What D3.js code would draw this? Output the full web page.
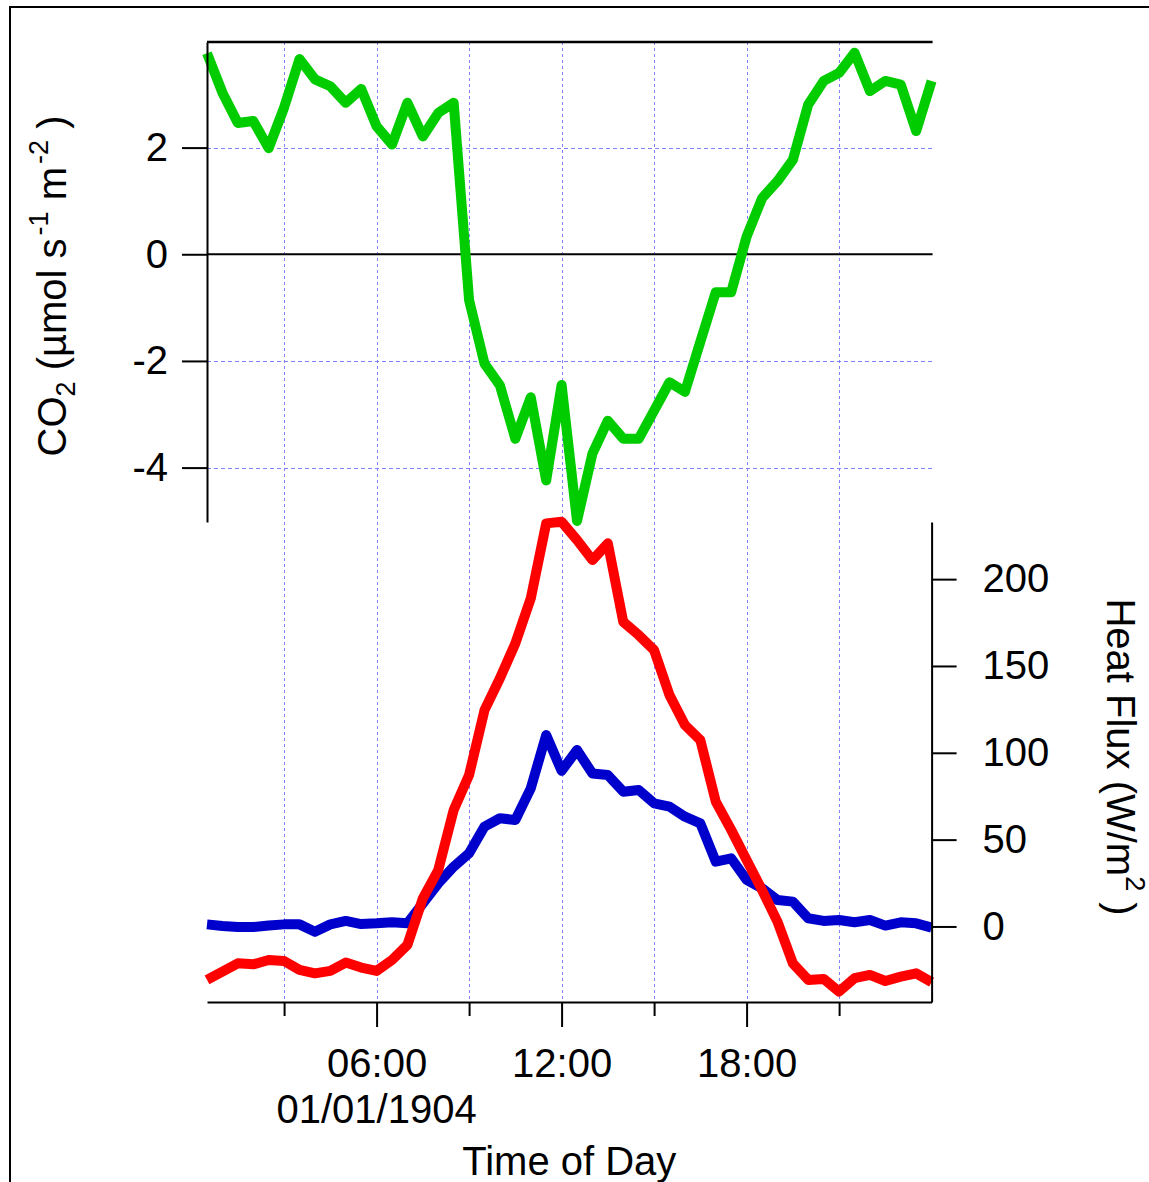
<!DOCTYPE html>
<html>
<head>
<meta charset="utf-8">
<script src="https://cdn.jsdelivr.net/npm/d3@7"></script>
<style>
  body { margin: 0; background: #ffffff; }
  svg { display: block; }
</style>
</head>
<body>
<svg id="chart" width="1149" height="1182"></svg>
<script>
// ---------------- data ----------------
const hours = [0.5, 1, 1.5, 2, 2.5, 3, 3.5, 4, 4.5, 5, 5.5, 6, 6.5, 7, 7.5, 8,
  8.5, 9, 9.5, 10, 10.5, 11, 11.5, 12, 12.5, 13, 13.5, 14, 14.5, 15, 15.5, 16,
  16.5, 17, 17.5, 18, 18.5, 19, 19.5, 20, 20.5, 21, 21.5, 22, 22.5, 23, 23.5, 24];

const co2 = [3.77, 3.03, 2.46, 2.50, 1.99, 2.75, 3.66, 3.28, 3.15, 2.84, 3.10, 2.40,
  2.06, 2.84, 2.21, 2.65, 2.84, -0.86, -2.05, -2.46, -3.46, -2.68, -4.24, -2.45,
  -5.00, -3.74, -3.12, -3.46, -3.46, -2.93, -2.40, -2.58, -1.64, -0.71, -0.71, 0.33,
  1.05, 1.37, 1.77, 2.81, 3.25, 3.40, 3.78, 3.06, 3.25, 3.18, 2.31, 3.25];

const sensibleHeat = [-30.8, -26.0, -21.2, -21.8, -19.3, -19.9, -25.0, -27.0, -25.6, -20.8, -23.7, -25.6,
  -19.3, -10.6, 16.2, 32.5, 67.1, 87.2, 124.6, 142.9, 163.0, 188.9, 232.1, 233.0,
  222.5, 211.0, 220.6, 175.4, 167.8, 159.1, 133.2, 116.0, 107.3, 71.9, 55.6, 38.3,
  21.0, 2.8, -21.2, -30.8, -30.2, -37.5, -29.8, -27.9, -31.4, -28.9, -27.0, -32.1];

const latentHeat = [1.2, 0.3, -0.3, -0.3, 0.5, 1.2, 1.2, -3.0, 1.2, 3.2, 1.4, 1.8,
  2.4, 1.8, 13.3, 24.8, 34.4, 42.1, 57.5, 62.3, 61.3, 79.5, 110.2, 89.6,
  101.6, 88.1, 87.2, 77.6, 78.6, 70.9, 69.0, 63.2, 59.4, 37.3, 39.2, 26.8,
  22.0, 15.2, 14.3, 4.7, 3.2, 3.7, 2.4, 3.7, 0.5, 2.4, 1.8, -0.7];

const co2Ticks = [-4, -2, 0, 2];
const co2GridValues = [-4, -2, 2];
const heatTicks = [0, 50, 100, 150, 200];
const majorHours = [6, 12, 18];
const majorLabels = ["06:00", "12:00", "18:00"];
const minorHours = [3, 9, 15, 21];
const gridHours = [3, 6, 9, 12, 15, 18, 21];
const dateLabel = "01/01/1904";
const xTitle = "Time of Day";

// ---------------- setup ----------------
const svg = d3.select("#chart");
const FONT = "'Liberation Sans', Arial, Helvetica, sans-serif";
const FS = 40;
const GRID = "#8080ff";

const left = 207, right = 931.6;
const x = d3.scaleLinear().domain([0.5, 24]).range([left, right]);
const yCO2 = d3.scaleLinear().domain([-5.02, 3.98]).range([522, 42]);
const yHeat = d3.scaleLinear().domain([-43.5, 232.9]).range([1002, 522]);
const crisp = v => Math.round(v) + 0.5;

svg.append("rect").attr("width", 1149).attr("height", 1182).attr("fill", "#fff");

// outer frame
svg.append("rect").attr("x", 10).attr("y", 7).attr("width", 1400).attr("height", 1400)
  .attr("fill", "none").attr("stroke", "#000").attr("stroke-width", 2);

// grid
svg.append("g").selectAll("line").data(gridHours).join("line")
  .attr("x1", d => crisp(x(d))).attr("x2", d => crisp(x(d)))
  .attr("y1", 42).attr("y2", 1002)
  .attr("stroke", GRID).attr("stroke-width", 1).attr("stroke-dasharray", "3,3");

svg.append("g").selectAll("line").data(co2GridValues).join("line")
  .attr("x1", left).attr("x2", right + 1)
  .attr("y1", d => crisp(yCO2(d))).attr("y2", d => crisp(yCO2(d)))
  .attr("stroke", GRID).attr("stroke-width", 1).attr("stroke-dasharray", "4,3");

// zero line & top line
svg.append("line").attr("x1", left).attr("x2", right + 1)
  .attr("y1", yCO2(0)).attr("y2", yCO2(0)).attr("stroke", "#000").attr("stroke-width", 2);
svg.append("line").attr("x1", left).attr("x2", right + 1)
  .attr("y1", yCO2.range()[1]).attr("y2", yCO2.range()[1]).attr("stroke", "#000").attr("stroke-width", 2.5);

// ---------------- traces ----------------
function drawLine(values, yScale, color) {
  const line = d3.line().x((d, i) => x(hours[i])).y(d => yScale(d));
  svg.append("path").datum(values).attr("d", line)
    .attr("fill", "none").attr("stroke", color).attr("stroke-width", 10)
    .attr("stroke-linejoin", "round").attr("stroke-linecap", "butt");
}
drawLine(latentHeat, yHeat, "#0000cc");
drawLine(sensibleHeat, yHeat, "#ff0000");
drawLine(co2, yCO2, "#00cc00");

// ---------------- axes ----------------
function styleAxis(g) {
  g.attr("font-size", FS).attr("font-family", FONT);
  g.selectAll("path, line").attr("stroke", "#000").attr("stroke-width", 2);
  g.selectAll("text").attr("fill", "#000");
}

const gLeft = svg.append("g").attr("transform", `translate(${left},0)`)
  .call(d3.axisLeft(yCO2).tickValues(co2Ticks).tickFormat(d => String(d))
    .tickSize(25).tickSizeOuter(0).tickPadding(14));
styleAxis(gLeft);

const gRight = svg.append("g").attr("transform", `translate(${right},0)`)
  .call(d3.axisRight(yHeat).tickValues(heatTicks).tickFormat(d => String(d))
    .tickSize(25).tickSizeOuter(0).tickPadding(26));
styleAxis(gRight);

const gBottom = svg.append("g").attr("transform", "translate(0,1002)")
  .call(d3.axisBottom(x).tickValues(majorHours).tickFormat((d, i) => majorLabels[i])
    .tickSize(25).tickSizeOuter(0));
styleAxis(gBottom);
gBottom.selectAll("text").attr("y", 75).attr("dy", 0);

const gMinor = svg.append("g").attr("transform", "translate(0,1002)")
  .call(d3.axisBottom(x).tickValues(minorHours).tickFormat("").tickSize(14).tickSizeOuter(0));
styleAxis(gMinor);
gMinor.select(".domain").remove();

// ---------------- labels ----------------
svg.append("text").attr("x", x(majorHours[0])).attr("y", 1123)
  .attr("text-anchor", "middle").attr("font-family", FONT).attr("font-size", FS)
  .text(dateLabel);

svg.append("text").attr("x", (left + right) / 2).attr("y", 1175)
  .attr("text-anchor", "middle").attr("font-family", FONT).attr("font-size", FS)
  .text(xTitle);

// left title
const SUB = 27;
const lt = svg.append("text").attr("transform", "translate(66,286) rotate(-90)")
  .attr("text-anchor", "middle").attr("font-family", FONT).attr("font-size", 40);
lt.append("tspan").text("CO");
lt.append("tspan").attr("font-size", SUB).attr("dy", 9).text("2");
lt.append("tspan").attr("dy", -9).text(" (µmol s");
lt.append("tspan").attr("font-size", SUB).attr("dy", -18).attr("dx", 3).text("-1");
lt.append("tspan").attr("dy", 18).text("  m");
lt.append("tspan").attr("font-size", SUB).attr("dy", -18).attr("dx", 3).text("-2");
lt.append("tspan").attr("dy", 18).text(" )");

// right title
const rt = svg.append("text").attr("transform", "translate(1107,757) rotate(90)")
  .attr("text-anchor", "middle").attr("font-family", FONT).attr("font-size", FS);
rt.append("tspan").text("Heat Flux (W/m");
rt.append("tspan").attr("font-size", SUB).attr("dy", -19).text("2");
rt.append("tspan").attr("dy", 19).text(" )");
</script>
</body>
</html>
